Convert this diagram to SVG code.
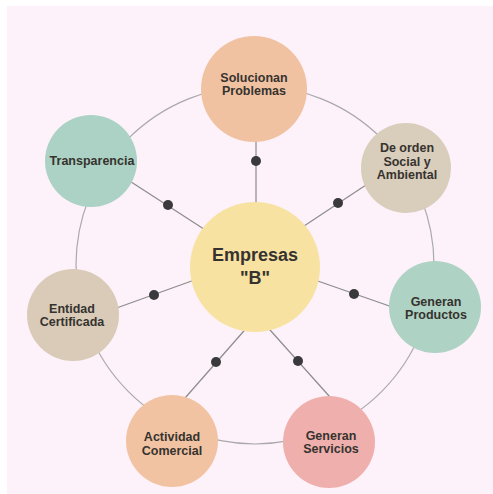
<svg xmlns="http://www.w3.org/2000/svg" width="493" height="494" viewBox="0 0 493 494">
  <style>
    .lbl { font-family: "Liberation Sans", Arial, sans-serif; font-weight: bold; font-size: 12.5px; fill: #36332f; text-anchor: middle; }
    .big { font-size: 18px; }
    .spoke { stroke: #8c8c8c; stroke-width: 1.2; fill: none; }
    .ring { stroke: #a9a9a9; stroke-width: 1.2; fill: none; }
    .dot { fill: #3a3a3c; }
  </style>
  <rect x="0" y="0" width="493" height="494" fill="#ffffff"/>
  <rect x="7" y="6" width="486" height="488" fill="#fdf1fa"/>

  <g id="connectors">
    <circle class="ring" cx="255" cy="265" r="179"/>
    <line class="spoke" x1="256" y1="130" x2="256" y2="210"/>
    <line class="spoke" x1="125" y1="178" x2="210" y2="233"/>
    <line class="spoke" x1="372" y1="181" x2="298" y2="230"/>
    <line class="spoke" x1="312" y1="279" x2="398" y2="309"/>
    <line class="spoke" x1="111" y1="310" x2="200" y2="278"/>
    <line class="spoke" x1="178" y1="406" x2="250" y2="324"/>
    <line class="spoke" x1="262" y1="321" x2="338" y2="406"/>
    <circle class="dot" cx="256" cy="161" r="5"/>
    <circle class="dot" cx="168" cy="205" r="5"/>
    <circle class="dot" cx="338" cy="203" r="5"/>
    <circle class="dot" cx="354" cy="294" r="5"/>
    <circle class="dot" cx="154" cy="295" r="5"/>
    <circle class="dot" cx="216" cy="362" r="5"/>
    <circle class="dot" cx="298" cy="361" r="5"/>
  </g>

  <g id="solucionan">
    <circle cx="254" cy="89" r="53" fill="#f1c2a2"/>
    <text class="lbl" x="254" y="81.5">Solucionan</text>
    <text class="lbl" x="254" y="95">Problemas</text>
  </g>

  <g id="orden">
    <circle cx="406" cy="168" r="45" fill="#d9cdbb"/>
    <text class="lbl" x="407" y="152">De orden</text>
    <text class="lbl" x="407" y="165.5">Social y</text>
    <text class="lbl" x="407" y="179">Ambiental</text>
  </g>

  <g id="productos">
    <circle cx="435" cy="307" r="46" fill="#aed2c3"/>
    <text class="lbl" x="436" y="305.5">Generan</text>
    <text class="lbl" x="436" y="319">Productos</text>
  </g>

  <g id="servicios">
    <circle cx="329" cy="442" r="46" fill="#efb0ad"/>
    <text class="lbl" x="331" y="439.5">Generan</text>
    <text class="lbl" x="331" y="453">Servicios</text>
  </g>

  <g id="actividad">
    <circle cx="172" cy="441" r="46" fill="#f2c3a2"/>
    <text class="lbl" x="172" y="441">Actividad</text>
    <text class="lbl" x="172" y="454.5">Comercial</text>
  </g>

  <g id="entidad">
    <circle cx="73" cy="315" r="46" fill="#d9cbb8"/>
    <text class="lbl" x="72" y="312.5">Entidad</text>
    <text class="lbl" x="72" y="326">Certificada</text>
  </g>

  <g id="transparencia">
    <circle cx="91" cy="161" r="46" fill="#abd2c4"/>
    <text class="lbl" x="92" y="165">Transparencia</text>
  </g>

  <g id="empresas">
    <circle cx="255" cy="267" r="65" fill="#f8e2a2"/>
    <text class="lbl big" x="255" y="261">Empresas</text>
    <text class="lbl big" x="255" y="284">"B"</text>
  </g>
</svg>
